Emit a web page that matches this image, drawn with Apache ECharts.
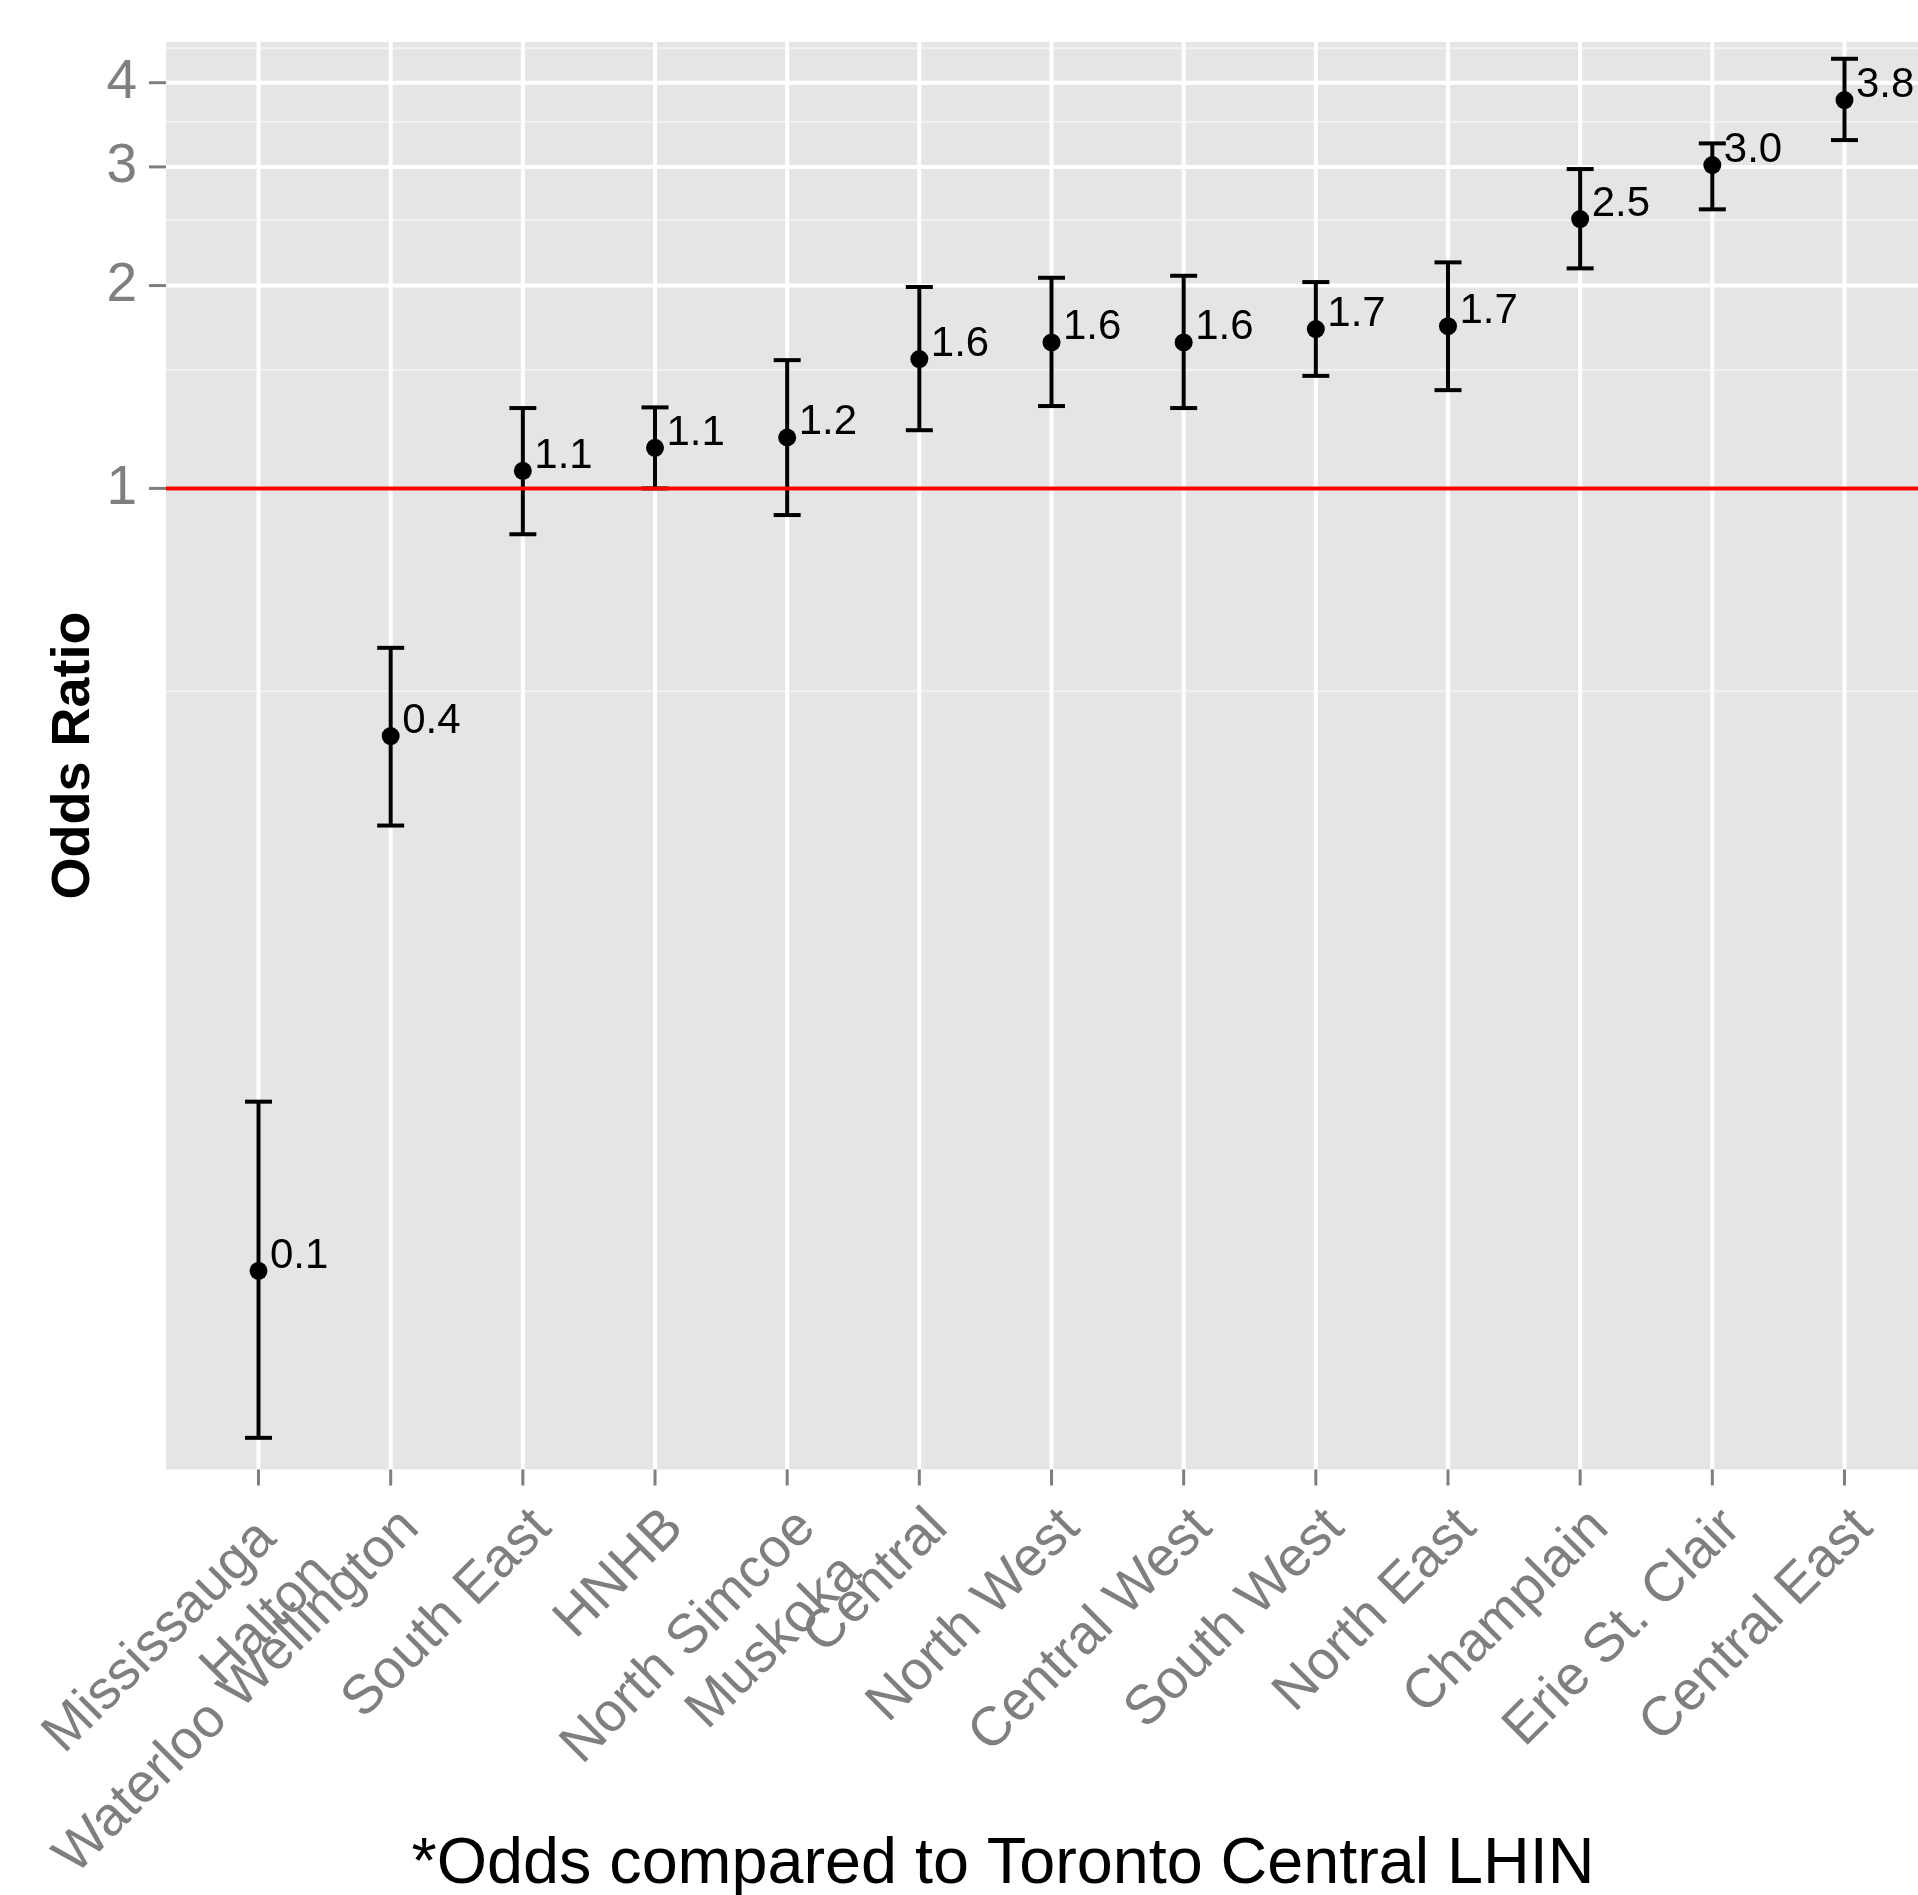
<!DOCTYPE html>
<html>
<head>
<meta charset="utf-8">
<script src="https://cdn.jsdelivr.net/npm/echarts@6/dist/echarts.min.js"></script>
<style>
html,body{margin:0;padding:0;background:#ffffff;}
#c{width:1918px;height:1895px;}
</style>
</head>
<body>
<div id="c"></div>
<script>
// ---- data ----
const categories = [
  'Mississauga \nHalton', 'Waterloo Wellington', 'South East', 'HNHB',
  'North Simcoe\nMuskoka', 'Central', 'North West', 'Central West',
  'South West', 'North East', 'Champlain', 'Erie St. Clair', 'Central East'
];
const oddsRatio = [0.069, 0.429, 1.062, 1.149, 1.190, 1.556, 1.647, 1.647, 1.724, 1.741, 2.510, 3.019, 3.770];
const lowerCI   = [0.039, 0.316, 0.855, 1.000, 0.913, 1.220, 1.325, 1.316, 1.469, 1.399, 2.121, 2.595, 3.288];
const upperCI   = [0.123, 0.580, 1.316, 1.319, 1.550, 1.990, 2.054, 2.068, 2.024, 2.165, 2.978, 3.251, 4.341];
const valueLabels = ['0.1', '0.4', '1.1', '1.1', '1.2', '1.6', '1.6', '1.6', '1.7', '1.7', '2.5', '3.0', '3.8'];
const yMajorTicks = [1, 2, 3, 4];
const yMinorTicks = [0.5, 1.5, 2.5, 3.5, 4.5];
const referenceValue = 1;
const xTitle = '*Odds compared to Toronto Central LHIN';
const yTitle = 'Odds Ratio';

const FONT = '"Liberation Sans", Arial, Helvetica, sans-serif';
const GREY = '#7F7F7F';
const idx = categories.map((_, i) => i);

const chart = echarts.init(document.getElementById('c'), null, { renderer: 'canvas' });

const option = {
  animation: false,
  backgroundColor: '#FFFFFF',
  grid: {
    left: 166, top: 42, width: 1771, height: 1427.5,
    show: true, backgroundColor: '#E5E5E5', borderWidth: 0,
    containLabel: false, outerBoundsMode: 'none'
  },
  xAxis: {
    type: 'value', min: -0.7, max: 12.7,
    axisLine: { show: false, onZero: false },
    axisTick: { show: false }, axisLabel: { show: false }, splitLine: { show: false }
  },
  yAxis: {
    type: 'log', logBase: 10, min: 0.035, max: 4.597,
    axisLine: { show: false, onZero: false }, axisTick: { show: false }, axisLabel: { show: false },
    splitLine: { show: false }, minorSplitLine: { show: false }
  },
  graphic: [
    {
      type: 'text', x: 74, y: 755.5, rotation: Math.PI / 2,
      style: { text: yTitle, fontSize: 54, fontWeight: 'bold', fontFamily: FONT, fill: '#000000', align: 'center', verticalAlign: 'middle' }
    },
    {
      type: 'text', x: 1003, y: 1864.8,
      style: { text: xTitle, fontSize: 64.7, fontFamily: FONT, fill: '#000000', align: 'center', verticalAlign: 'middle' }
    }
  ],
  series: [
    {
      name: 'minor grid', type: 'custom', z: 1, silent: true, clip: false,
      data: yMinorTicks.map(v => [0, v]), encode: { x: 0, y: 1 },
      renderItem: (params, api) => {
        const cs = params.coordSys;
        const y = api.coord([0, api.value(1)])[1];
        return { type: 'line', shape: { x1: cs.x, y1: y, x2: cs.x + cs.width, y2: y }, style: { stroke: '#F2F2F2', lineWidth: 2 } };
      }
    },
    {
      name: 'y axis', type: 'custom', z: 2, silent: true, clip: false,
      data: yMajorTicks.map(v => [0, v]), encode: { x: 0, y: 1 },
      renderItem: (params, api) => {
        const cs = params.coordSys;
        const v = api.value(1);
        const y = api.coord([0, v])[1];
        return {
          type: 'group', children: [
            { type: 'line', shape: { x1: cs.x, y1: y, x2: cs.x + cs.width, y2: y }, style: { stroke: '#FFFFFF', lineWidth: 4 } },
            { type: 'line', shape: { x1: cs.x - 17, y1: y, x2: cs.x, y2: y }, style: { stroke: GREY, lineWidth: 3 } },
            { type: 'text', x: cs.x - 29, y: y, style: { text: String(v), fontSize: 55, fontFamily: FONT, fill: GREY, align: 'right', verticalAlign: 'middle' } }
          ]
        };
      }
    },
    {
      name: 'x axis', type: 'custom', z: 2, silent: true, clip: false,
      data: idx.map(i => [i, referenceValue]), encode: { x: 0, y: 1 },
      renderItem: (params, api) => {
        const cs = params.coordSys;
        const x = api.coord([api.value(0), referenceValue])[0];
        const yb = cs.y + cs.height;
        return {
          type: 'group', children: [
            { type: 'line', shape: { x1: x, y1: cs.y, x2: x, y2: yb }, style: { stroke: '#FFFFFF', lineWidth: 4 } },
            { type: 'line', shape: { x1: x, y1: yb, x2: x, y2: yb + 16 }, style: { stroke: GREY, lineWidth: 3 } },
            {
              type: 'text', x: x - 3, y: yb + 27, rotation: Math.PI / 4,
              style: { text: categories[params.dataIndex], fontSize: 55, fontFamily: FONT, fill: GREY, align: 'right', verticalAlign: 'top', lineHeight: 64 }
            }
          ]
        };
      }
    },
    {
      name: 'CI', type: 'custom', z: 3, silent: true, clip: false,
      data: idx.map(i => [i, lowerCI[i], upperCI[i]]), encode: { x: 0, y: [1, 2] },
      renderItem: (params, api) => {
        const x = api.value(0);
        const lo = api.coord([x, api.value(1)]);
        const hi = api.coord([x, api.value(2)]);
        const hw = 13.5;
        const st = { stroke: '#000000', lineWidth: 4 };
        return {
          type: 'group', children: [
            { type: 'line', shape: { x1: lo[0], y1: lo[1], x2: hi[0], y2: hi[1] }, style: st },
            { type: 'line', shape: { x1: hi[0] - hw, y1: hi[1], x2: hi[0] + hw, y2: hi[1] }, style: st },
            { type: 'line', shape: { x1: lo[0] - hw, y1: lo[1], x2: lo[0] + hw, y2: lo[1] }, style: st }
          ]
        };
      }
    },
    {
      name: 'reference', type: 'custom', z: 4, silent: true, clip: false,
      data: [[0, referenceValue]], encode: { x: 0, y: 1 },
      renderItem: (params, api) => {
        const cs = params.coordSys;
        const y = api.coord([0, api.value(1)])[1];
        return { type: 'line', shape: { x1: cs.x, y1: y, x2: cs.x + cs.width, y2: y }, style: { stroke: '#FF0000', lineWidth: 4 } };
      }
    },
    {
      name: 'Odds Ratio', type: 'scatter', z: 5, silent: true,
      data: idx.map(i => [i, oddsRatio[i]]),
      symbol: 'circle', symbolSize: 18,
      itemStyle: { color: '#000000', opacity: 1 },
      label: {
        show: true, formatter: p => valueLabels[p.dataIndex],
        position: [20.5, 15.4], align: 'left', verticalAlign: 'bottom',
        fontSize: 42, fontFamily: FONT, color: '#000000'
      }
    }
  ]
};
chart.setOption(option);
</script>
</body>
</html>
